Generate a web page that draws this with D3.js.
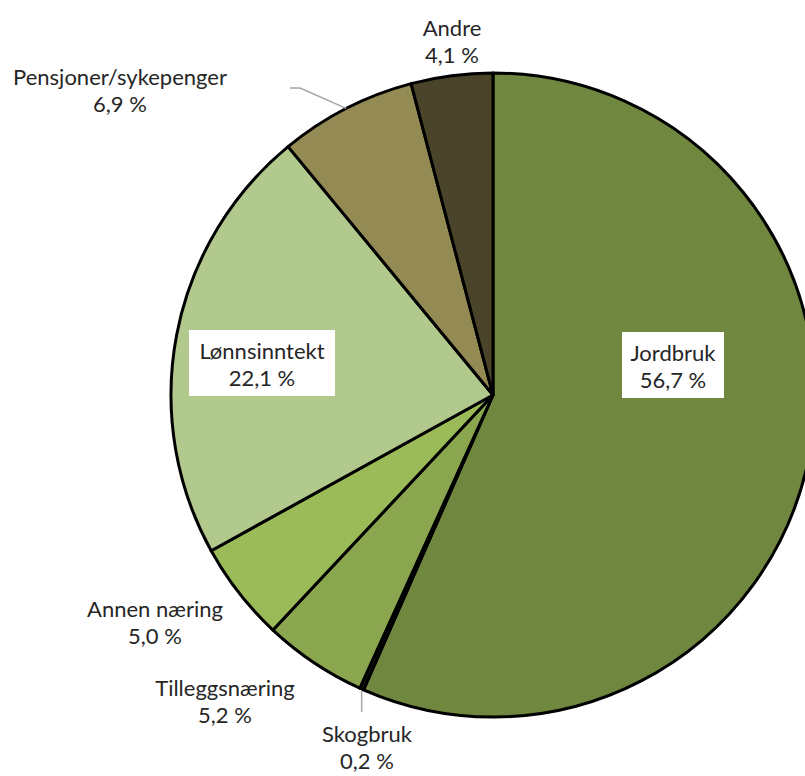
<!DOCTYPE html>
<html>
<head>
<meta charset="utf-8">
<script src="https://cdn.jsdelivr.net/npm/d3@7"></script>
<style>
  body { margin: 0; background: #fff; }
  text { font-family: Lato, "Open Sans", sans-serif; fill: #262626; }
</style>
</head>
<body>
<div id="chart"></div>
<script>
// data (clockwise from 12 o'clock)
var categories = ["Jordbruk", "Skogbruk", "Tilleggsnæring", "Annen næring", "Lønnsinntekt", "Pensjoner/sykepenger", "Andre"];
var values = [56.7, 0.2, 5.2, 5.0, 22.1, 6.9, 4.1];
var valueLabels = ["56,7 %", "0,2 %", "5,2 %", "5,0 %", "22,1 %", "6,9 %", "4,1 %"];
var colors = ["#6f873e", "#1a1a10", "#8aa64f", "#9bbb59", "#b2c98d", "#948a54", "#4a452a"];

// label placement (centre x, first baseline y); box = white box width inside slice
var labelPos = [
  {x: 673, y: 361, box: 102},
  {x: 367, y: 742},
  {x: 225, y: 696},
  {x: 155, y: 617},
  {x: 262, y: 359, box: 146},
  {x: 120, y: 85},
  {x: 452, y: 36}
];

var width = 805, height = 776;
var cx = 493, cy = 395, radius = 322;

var svg = d3.select("#chart").append("svg")
    .attr("width", width)
    .attr("height", height);

var g = svg.append("g")
    .attr("transform", "translate(" + cx + "," + cy + ")");

var pie = d3.pie().sort(null).value(function(d) { return d; });
var arcs = pie(values);
var arc = d3.arc().innerRadius(0).outerRadius(radius);

g.selectAll("path")
  .data(arcs)
  .enter().append("path")
    .attr("d", arc)
    .attr("fill", function(d, i) { return colors[i]; })
    .attr("stroke", "#000")
    .attr("stroke-width", 3)
    .attr("stroke-linejoin", "round");

// leader lines for Pensjoner and Skogbruk
function edgePoint(d, r) {
  var a = (d.startAngle + d.endAngle) / 2;
  return [cx + Math.sin(a) * r, cy - Math.cos(a) * r];
}
var pPen = edgePoint(arcs[5], radius);
var pSkog = edgePoint(arcs[1], radius);
svg.append("polyline")
    .attr("points", [[290, 88], [300, 88], pPen].map(function(p) { return p.join(","); }).join(" "))
    .attr("fill", "none").attr("stroke", "#a6a6a6").attr("stroke-width", 1.5);
svg.append("line")
    .attr("x1", pSkog[0]).attr("y1", pSkog[1] + 2)
    .attr("x2", pSkog[0]).attr("y2", 712)
    .attr("stroke", "#a6a6a6").attr("stroke-width", 1.5);

// white label boxes
labelPos.forEach(function(p) {
  if (p.box) {
    svg.append("rect")
      .attr("x", p.x - p.box / 2).attr("y", p.y - 29)
      .attr("width", p.box).attr("height", 66)
      .attr("fill", "#fff");
  }
});

var lbl = svg.selectAll("g.lbl")
  .data(categories)
  .enter().append("g").attr("class", "lbl");

lbl.append("text")
    .attr("x", function(d, i) { return labelPos[i].x; })
    .attr("y", function(d, i) { return labelPos[i].y; })
    .attr("text-anchor", "middle")
    .attr("font-size", 22)
    .text(function(d) { return d; });

lbl.append("text")
    .attr("x", function(d, i) { return labelPos[i].x; })
    .attr("y", function(d, i) { return labelPos[i].y + 27; })
    .attr("text-anchor", "middle")
    .attr("font-size", 22)
    .text(function(d, i) { return valueLabels[i]; });
</script>
</body>
</html>
